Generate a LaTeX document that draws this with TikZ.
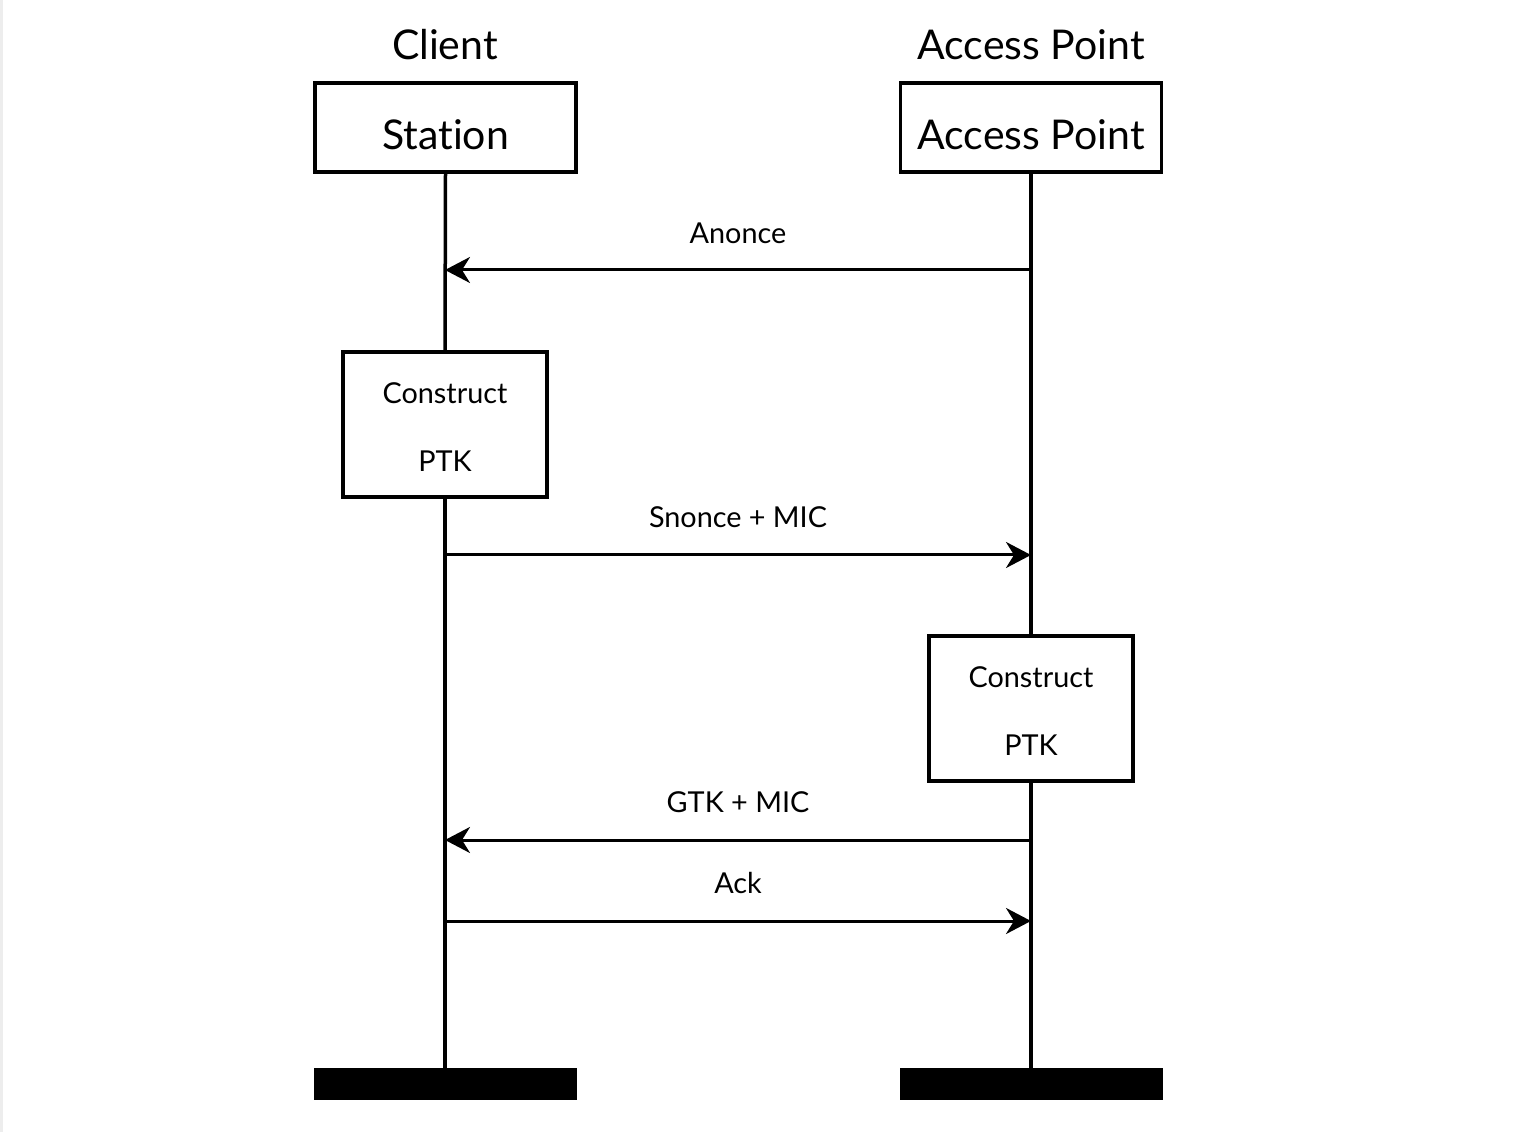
\documentclass[tikz,border=0pt]{standalone}
\usepackage{fontspec}
\setmainfont{Lato}[Ligatures=NoCommon]
\usetikzlibrary{arrows.meta}
\begin{document}
\begin{tikzpicture}[x=0.5bp,y=-0.5bp,
  lw/.style={line width=1.75bp},
  actor/.style={draw,lw,minimum width=130.5bp,minimum height=44.5bp,inner sep=0pt},
  title/.style={font=\fontsize{20.5bp}{25bp}\selectfont,inner sep=0pt},
  proc/.style={draw,lw,fill=white,minimum width=102bp,minimum height=72.5bp,inner sep=0pt},
  msg/.style={line width=1.5bp,-{Stealth[length=12.5bp,width=13bp,inset=4bp]}},
  lbl/.style={font=\fontsize{14.4bp}{18bp}\selectfont,inner sep=0pt},
  bar/.style={fill=black,minimum width=131.5bp,minimum height=16bp,inner sep=0pt},
  life/.style={lw}]
\useasboundingbox (0,0) rectangle (1532,1132);
\fill[white] (0,0) rectangle (1532,1132);
\fill[black!7] (0,0) rectangle (3,1132);
% titles
\node[title] (tc) at (445,45) {Client};
\node[title] (ta) at (1031,45) {Access Point};
% actor boxes
\node[actor] (st) at (445.5,127.5) {};
\node[actor] (ap) at (1031,127.5) {};
\node[title] (stt) at (445.5,135) {Station};
\node[title] (apt) at (1031,135) {Access Point};
% bottom bars
\node[bar] (bs) at (445.5,1084) {};
\node[bar] (ba) at (1031.5,1084) {};
% process boxes
\node[proc] (cs) at (445,424.5) {};
\node[lbl] (cs1) at (445,393) {Construct};
\node[lbl] (cs2) at (445,461) {PTK};
\node[proc] (ca) at (1031,708.5) {};
\node[lbl] (ca1) at (1031,677) {Construct};
\node[lbl] (ca2) at (1031,745) {PTK};
% lifelines
\draw[life] (st.south) -- (cs.north);
\draw[life] (cs.south) -- (cs.south |- bs.north);
\draw[life] (ap.south) -- (ca.north);
\draw[life] (ca.south) -- (ca.south |- ba.north);
% message anchor coordinates
\coordinate (s1) at (445,270); \coordinate (a1) at (1031,270);
\coordinate (s2) at (445,555); \coordinate (a2) at (1031,555);
\coordinate (s3) at (445,840); \coordinate (a3) at (1031,840);
\coordinate (s4) at (445,921); \coordinate (a4) at (1031,921);
\draw[msg] (a1) -- (s1);
\draw[msg] (s2) -- (a2);
\draw[msg] (a3) -- (s3);
\draw[msg] (s4) -- (a4);
\node[lbl] (l1) at (738,233) {Anonce};
\node[lbl] (l2) at (738,517) {Snonce + MIC};
\node[lbl] (l3) at (738,802) {GTK + MIC};
\node[lbl] (l4) at (738,883) {Ack};
\end{tikzpicture}
\end{document}
